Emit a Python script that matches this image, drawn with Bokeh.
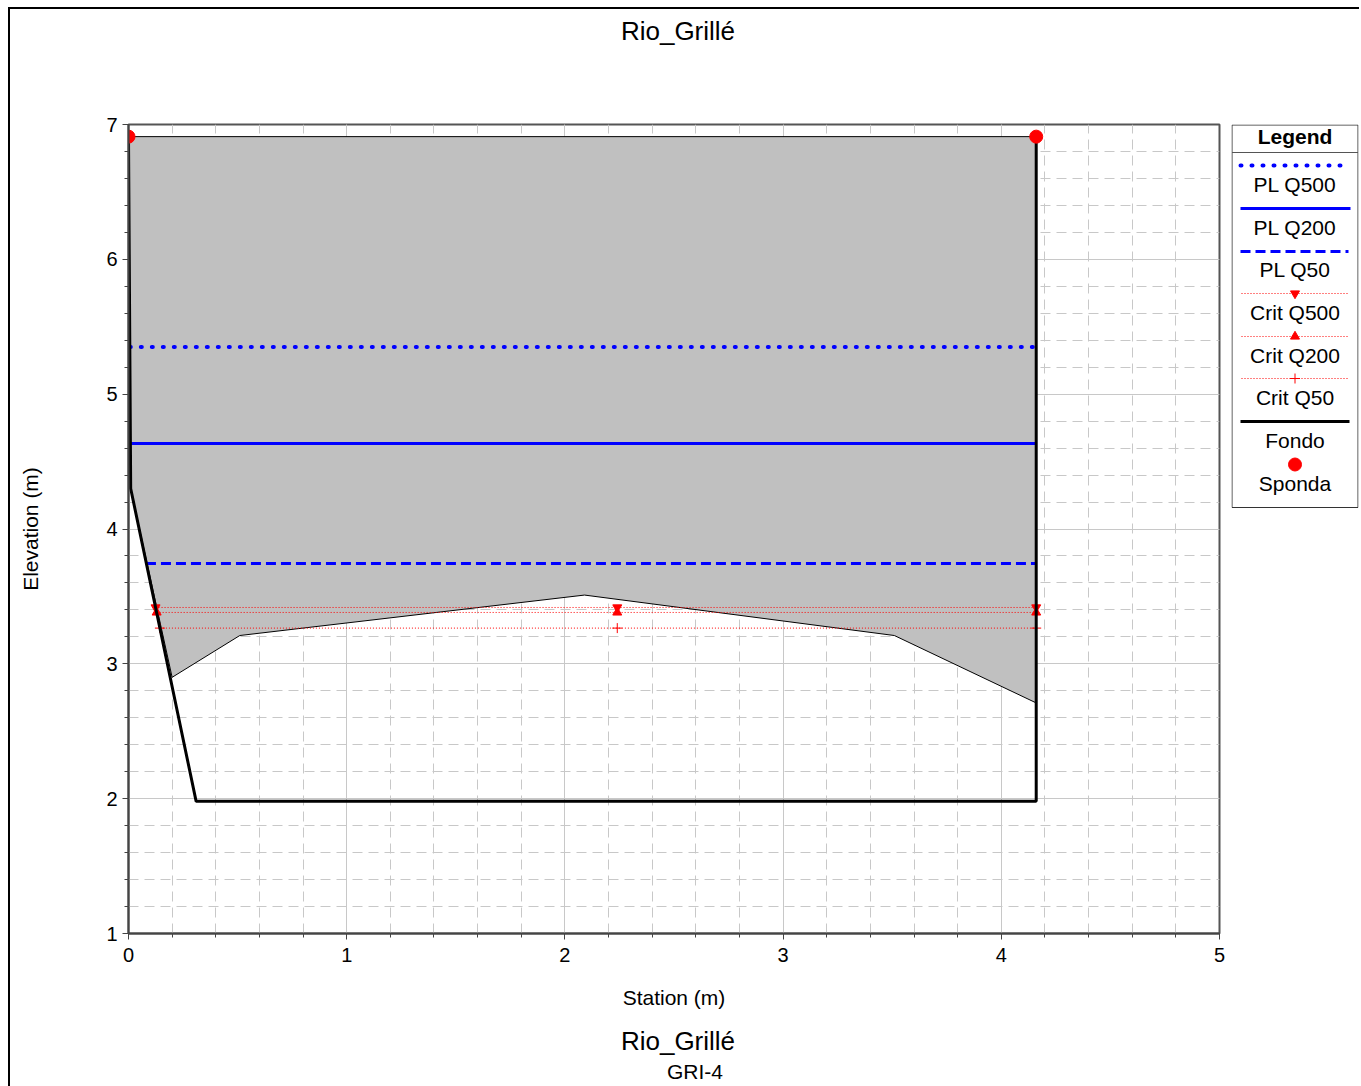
from bokeh.plotting import figure
from bokeh.layouts import row, column
from bokeh.models import Range1d, SingleIntervalTicker, Div
from bokeh.embed import file_html
from bokeh.resources import INLINE
from bokeh.core.properties import value

FONT = "Liberation Sans"

# ---------------- data ----------------
title_text = "Rio_Grillé"
subtitle_text = "GRI-4"

# ground (Fondo)
fondo_x = [0.0, 0.01, 0.31, 4.16, 4.16]
fondo_y = [6.91, 4.30, 1.98, 1.98, 6.91]

# inner boundary of the grey area
inner_x = [0.20, 0.51, 2.09, 3.51, 4.16]
inner_y = [2.90, 3.21, 3.51, 3.21, 2.71]

# banks (Sponda)
bank_x = [0.0, 4.16]
bank_y = [6.91, 6.91]

# water levels
pl_names = ["PL Q500", "PL Q200", "PL Q50"]
pl_elev = [5.35, 4.635, 3.745]
pl_x0 = [0.006, 0.009, 0.08]
pl_x1 = [4.16, 4.16, 4.16]
pl_dash = ["1 10", "solid", "10 5"]

# critical levels
crit_names = ["Crit Q500", "Crit Q200", "Crit Q50"]
crit_elev = [3.418, 3.381, 3.265]
crit_x0 = [0.124, 0.129, 0.144]
crit_xm = [2.24, 2.24, 2.24]
crit_x1 = [4.16, 4.16, 4.16]
crit_marker = ["inverted_triangle", "triangle", "cross"]

x_range_vals = (0, 5)
y_range_vals = (1, 7)

# ---------------- layout sizes ----------------
TOP_DIV_H = 100
FRAME_H = 809
MB_TOP = 15
MB_BOTTOM = 86
ROW_H = MB_TOP + FRAME_H + MB_BOTTOM
MAIN_W = 1215
LEG_W = 134
TOTAL_W = MAIN_W + LEG_W

# ---------------- main figure ----------------
p = figure(width=MAIN_W, height=ROW_H, output_backend="svg", toolbar_location=None,
           x_range=Range1d(*x_range_vals), y_range=Range1d(*y_range_vals),
           min_border_left=118, min_border_right=6, min_border_top=MB_TOP,
           min_border_bottom=MB_BOTTOM)
p.background_fill_color = "white"
p.border_fill_color = "white"
p.outline_line_color = "#555555"
p.outline_line_width = 2

for ax in (p.xaxis[0], p.yaxis[0]):
    ax.ticker = SingleIntervalTicker(interval=1, num_minor_ticks=5)
    ax.axis_line_color = "#444444"
    ax.axis_line_width = 2
    ax.major_tick_line_color = "#444444"
    ax.minor_tick_line_color = "#444444"
    ax.major_tick_out = 6
    ax.major_tick_in = 0
    ax.minor_tick_out = 4
    ax.minor_tick_in = 0
    ax.major_label_text_font = FONT
    ax.major_label_text_font_size = "20px"
    ax.major_label_text_color = "black"
    ax.axis_label_text_font = FONT
    ax.axis_label_text_font_size = "21px"
    ax.axis_label_text_font_style = "normal"
    ax.axis_label_text_color = "black"

p.xaxis.axis_label = "Station (m)"
p.yaxis.axis_label = "Elevation (m)"
p.yaxis.major_label_standoff = 5
p.xaxis.major_label_standoff = 8
p.yaxis.axis_label_standoff = 61
p.xaxis.axis_label_standoff = 21

for g in (p.xgrid[0], p.ygrid[0]):
    g.grid_line_color = "#C8C8C8"
    g.grid_line_width = 1
    g.minor_grid_line_color = "#C8C8C8"
    g.minor_grid_line_dash = "10 6"
    g.minor_grid_line_width = 1

# grey filled area
fill_x = fondo_x[:2] + inner_x + [fondo_x[-1]]
fill_y = fondo_y[:2] + inner_y + [fondo_y[-1]]
p.patch(fill_x, fill_y, fill_color="#C0C0C0", line_color="black", line_width=1)

# water levels
for e, x0, x1, d in zip(pl_elev, pl_x0, pl_x1, pl_dash):
    p.line([x0, x1], [e, e], line_color="#0000FF", line_width=4 if d == "1 10" else 3,
           line_dash=d, line_cap="round" if d == "1 10" else "butt")

# critical levels
for e, x0, xm, x1, m in zip(crit_elev, crit_x0, crit_xm, crit_x1, crit_marker):
    p.line([x0, x1], [e, e], line_color="#FF0000", line_width=1, line_dash="1 2")
    p.scatter([x0, xm, x1], [e, e, e], marker=m, size=9 if m != "cross" else 10,
              fill_color="#FF0000", line_color="#FF0000", line_width=1)

# ground
p.line(fondo_x, fondo_y, line_color="black", line_width=3)

# banks
p.scatter(bank_x, bank_y, marker="circle", size=13, fill_color="#FF0000", line_color="#FF0000")

# ---------------- legend figure ----------------
LW = 127
lg = figure(width=LEG_W, height=ROW_H, output_backend="svg", toolbar_location=None,
            x_range=Range1d(0, LW), y_range=Range1d(FRAME_H, 0),
            x_axis_location=None, y_axis_location=None,
            min_border_left=6, min_border_right=1, min_border_top=MB_TOP,
            min_border_bottom=MB_BOTTOM)
lg.xgrid.visible = False
lg.ygrid.visible = False
lg.outline_line_color = None
lg.border_fill_color = "white"
lg.background_fill_color = "white"

cx = 63.5
LEG_FS = "21px"
lg.quad(left=[0.5], right=[LW - 0.5], top=[0.5], bottom=[383],
        fill_color="white", line_color="#333333", line_width=1)
lg.text([cx], [12], text=["Legend"], text_align="center", text_baseline="middle",
        text_font=value(FONT), text_font_size=LEG_FS, text_font_style="bold", text_color="black")
lg.line([0.5, LW - 0.5], [28, 28], line_color="#555555", line_width=1)

leg_line_y = [41, 84, 127]
leg_line_x1 = [111, 119, 117]
leg_text_y = [60, 103, 145]
for name, d, ly, lx1, ty in zip(pl_names, pl_dash, leg_line_y, leg_line_x1, leg_text_y):
    lg.line([9, lx1], [ly, ly], line_color="#0000FF", line_width=4 if d == "1 10" else 3,
            line_dash=d, line_cap="round" if d == "1 10" else "butt")
    lg.text([cx], [ty], text=[name], text_align="center", text_baseline="middle",
            text_font=value(FONT), text_font_size=LEG_FS, text_color="black")

crit_line_y = [169, 212, 254]
crit_text_y = [188, 231, 273]
for name, m, ly, ty in zip(crit_names, crit_marker, crit_line_y, crit_text_y):
    lg.line([10, 117], [ly, ly], line_color="#FF0000", line_width=1, line_dash="1 2")
    lg.scatter([cx], [ly], marker=m, size=9 if m != "cross" else 10,
               fill_color="#FF0000", line_color="#FF0000")
    lg.text([cx], [ty], text=[name], text_align="center", text_baseline="middle",
            text_font=value(FONT), text_font_size=LEG_FS, text_color="black")

lg.line([9, 118], [297, 297], line_color="black", line_width=3)
lg.text([cx], [316], text=["Fondo"], text_align="center", text_baseline="middle",
        text_font=value(FONT), text_font_size=LEG_FS, text_color="black")
lg.scatter([cx], [340], marker="circle", size=13, fill_color="#FF0000", line_color="#FF0000")
lg.text([cx], [359], text=["Sponda"], text_align="center", text_baseline="middle",
        text_font=value(FONT), text_font_size=LEG_FS, text_color="black")

# ---------------- titles ----------------
base = (f"display:block;width:{TOTAL_W}px;box-sizing:border-box;"
        f"font-family:'{FONT}';text-align:center;color:black;margin:0;")
top_div = Div(
    text=(f'<div style="{base}font-size:26px;line-height:30px;'
          f'padding-top:7px;padding-right:13px">{title_text}</div>'),
    width=TOTAL_W, height=TOP_DIV_H, margin=0)
bottom_div = Div(
    text=(f'<div style="{base}font-size:26px;line-height:30px;'
          f'padding-top:7px;padding-right:13px">{title_text}</div>'
          f'<div style="{base}font-size:21px;line-height:24px;'
          f'padding-top:4px;padding-left:21px">{subtitle_text}</div>'),
    width=TOTAL_W, height=68, margin=0)

plots = row(p, lg, spacing=0)
layout = column(top_div, plots, bottom_div, spacing=0,
                styles={"margin-left": "8px", "margin-top": "7px",
                        "border-left": "2px solid black", "border-top": "2px solid black"})

open("out.html", "w").write(file_html(layout, INLINE))
